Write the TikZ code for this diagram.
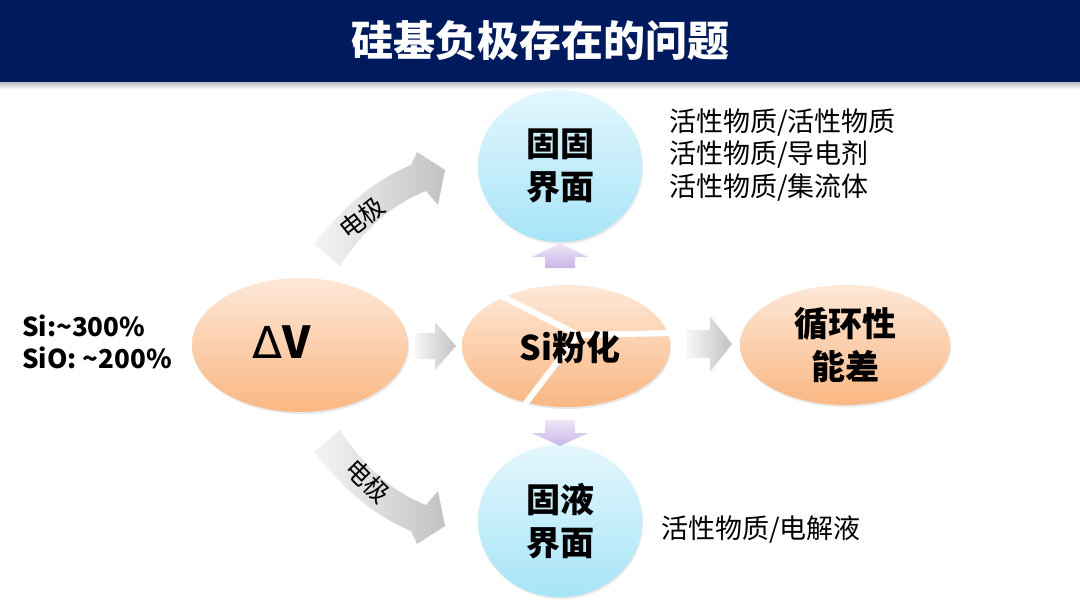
\documentclass[tikz,border=0pt]{standalone}
\usepackage{fontspec}
\setmainfont{Noto Sans CJK SC}
\newfontfamily\simbolo{DejaVu Sans}
\usetikzlibrary{shapes.geometric,calc,shadows}
\definecolor{ctitulo}{HTML}{001A5E}
\definecolor{cnaranja}{HTML}{FDE8D8}
\definecolor{cnaranjab}{HTML}{FAB782}
\definecolor{ccian}{HTML}{E4F7FD}
\definecolor{ccianb}{HTML}{A6E4F8}
\definecolor{clila}{HTML}{EFE7F8}
\definecolor{clilab}{HTML}{C8B5E6}
\definecolor{cgris}{HTML}{F6F6F6}
\definecolor{cgrisb}{HTML}{C2C2C2}
\tikzset{
  elipse/.style={ellipse,top color=cnaranja,bottom color=cnaranjab,inner sep=0pt,
                 align=center,font=\bfseries\fontsize{34}{43}\selectfont,
                 drop shadow={opacity=0.18,shadow xshift=1pt,shadow yshift=-2pt}},
  circulo/.style={elipse,top color=ccian,bottom color=ccianb},
  fuerte/.style={font=\bfseries\fontsize{34}{43}\selectfont,align=center,inner sep=0pt},
  flechab/.style={left color=cgris,right color=cgrisb},
  flechal/.style={top color=clila,bottom color=clilab},
  flechac/.style={left color=white!96!black,right color=cgrisb},
  grieta/.style={draw=white,line width=6pt},
  et/.style={font=\fontsize{27}{32.5}\selectfont,align=left,anchor=west,inner sep=0pt},
  etb/.style={et,font=\bfseries\fontsize{26}{32}\selectfont},
  etr/.style={font=\fontsize{25}{25}\selectfont,inner sep=0pt},
}

\begin{document}
\begin{tikzpicture}[x=1pt,y=-1pt]
\useasboundingbox (0,0) rectangle (1080,608);

% titulo
\shade[top color=black!35,bottom color=white] (0,80) rectangle (1080,89);
\fill[ctitulo] (0,0) rectangle (1080,82);
\node[text=white,font=\bfseries\fontsize{42}{42}\selectfont] (tit) at (540,41) {硅基负极存在的问题};

% elipses y circulos
\node[elipse,minimum width=216,minimum height=134] (dv) at (300,345) {};
\node[fuerte,font=\bfseries\fontsize{44}{44}\selectfont] (dvt) at (282,342) {{\mdseries\simbolo Δ}V};
\node[elipse,minimum width=208,minimum height=122] (si) at (566,346) {};
\draw[grieta] (490,290) -- (578,335) -- (673,333) (578,335) -- (519,412);
\node[fuerte] (sit) at (570,347) {Si粉化};
\node[elipse,minimum width=210,minimum height=120] (ciclo) at (845,345) {循环性\\能差};
\node[circulo,minimum width=164,minimum height=152] (sup) at (560,166) {固固\\界面};
\node[circulo,minimum width=164,minimum height=152] (inf) at (560,521) {固液\\界面};

% flechas rectas
\shade[flechab] (415,333) -- (435,333) -- (435,322) -- (456,346) -- (435,370) -- (435,359) -- (415,359) -- cycle;
\shade[flechab] (687,330) -- (710,330) -- (710,316) -- (732,344) -- (710,372) -- (710,358) -- (687,358) -- cycle;
\shade[flechal] (545,268) -- (545,257) -- (532,257) -- (560,243) -- (588,257) -- (575,257) -- (575,268) -- cycle;
\shade[flechal] (545,420) -- (545,433) -- (532,433) -- (560,446) -- (588,433) -- (575,433) -- (575,420) -- cycle;

% flechas curvas
\shade[flechac] (314,244) .. controls (345,205) and (375,180) .. (411,165) -- (417,152) -- (445,170)
  -- (438,205) -- (426,191) .. controls (390,205) and (362,232) .. (340,266) -- cycle;
\shade[flechac] (314,452) .. controls (345,491) and (375,516) .. (411,531) -- (417,544) -- (445,526)
  -- (438,491) -- (426,505) .. controls (390,491) and (362,464) .. (340,430) -- cycle;
\node[etr,rotate=38] (e1) at (362,218) {电极};
\node[etr,rotate=-45] (e2) at (368,481) {电极};

% textos
\node[etb] (pct) at (22,342) {Si:\textasciitilde300\%\\SiO: \textasciitilde200\%};
\node[et] (tsup) at (669,155) {活性物质/活性物质\\活性物质/导电剂\\活性物质/集流体};
\node[et] (tinf) at (661,530) {活性物质/电解液};

\end{tikzpicture}
\end{document}
